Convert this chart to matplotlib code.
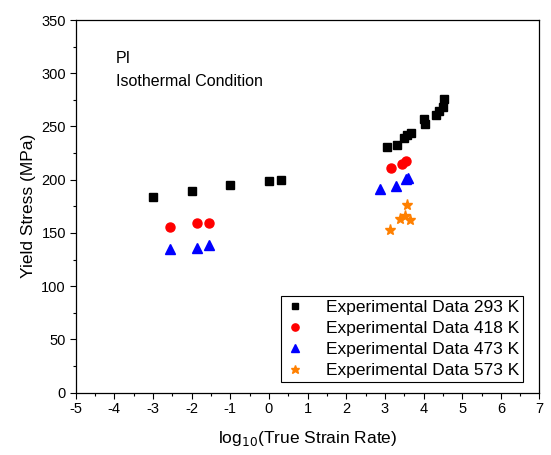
import matplotlib
matplotlib.use("Agg")
import matplotlib.pyplot as plt
from matplotlib.ticker import MultipleLocator

plt.rcParams['font.family'] = ['Liberation Sans', 'DejaVu Sans']
plt.rcParams['axes.unicode_minus'] = False

# log10(true strain rate) vs yield stress (MPa), PI isothermal
x_293 = [-3.0, -2.0, -1.0, 0.0, 0.3, 3.06, 3.32, 3.49, 3.57, 3.68, 4.02, 4.05, 4.33, 4.39, 4.5, 4.54]
y_293 = [184, 189, 195.5, 199, 199.5, 230.5, 233, 239, 242, 243.5, 257, 252, 260.5, 265, 268.5, 275.5]

x_418 = [-2.56, -1.86, -1.55, 3.17, 3.43, 3.54]
y_418 = [155.3, 159, 159, 210.7, 215, 217.5]

x_473 = [-2.56, -1.86, -1.55, 2.88, 3.3, 3.55, 3.6]
y_473 = [134.5, 135.5, 139, 191, 194, 200.5, 202]

x_573 = [3.12, 3.38, 3.51, 3.64, 3.58]
y_573 = [152.5, 163, 166, 162, 176]

labels = ["Experimental Data 293 K", "Experimental Data 418 K",
          "Experimental Data 473 K", "Experimental Data 573 K"]

fig = plt.figure(figsize=(5.51, 4.55), dpi=100)
ax = fig.add_axes([0.1374, 0.137, 0.8417, 0.819])

ax.plot(x_293, y_293, ls='none', marker='s', ms=6, color='black', label=labels[0])
ax.plot(x_418, y_418, ls='none', marker='o', ms=6.5, color='#FF0000', label=labels[1])
ax.plot(x_473, y_473, ls='none', marker='^', ms=7.2, color='#0000FF', label=labels[2])
ax.plot(x_573, y_573, ls='none', marker='*', ms=8, color='#FF8000', label=labels[3])

ax.set_xlim(-5, 7)
ax.set_ylim(0, 350)
ax.xaxis.set_major_locator(MultipleLocator(1))
ax.xaxis.set_minor_locator(MultipleLocator(0.5))
ax.yaxis.set_major_locator(MultipleLocator(50))
ax.yaxis.set_minor_locator(MultipleLocator(25))
ax.tick_params(which='both', direction='out', width=0.8, labelsize=10.5, top=False, right=False)
ax.tick_params(which='major', length=4.5, pad=2.5)
ax.tick_params(which='minor', length=2.5)
for s in ax.spines.values():
    s.set_linewidth(0.9)

ax.set_xlabel(r"log$_{10}$(True Strain Rate)", fontsize=12.5, labelpad=9)
ax.set_ylabel("Yield Stress (MPa)", fontsize=12.5, labelpad=4)

ax.text(0.087, 0.898, "PI", transform=ax.transAxes, fontsize=11.5, va='center')
ax.text(0.087, 0.836, "Isothermal Condition", transform=ax.transAxes, fontsize=11.5, va='center')

leg = ax.legend(loc='lower right', bbox_to_anchor=(0.9645, 0.0287), borderaxespad=0,
                fontsize=12.5, fancybox=False, framealpha=1, edgecolor='black',
                markerscale=0.8, handlelength=1.2, handletextpad=1.2,
                labelspacing=0.35, borderpad=0.2)
leg.get_frame().set_linewidth(0.8)

fig.savefig("out.png", dpi=100)
